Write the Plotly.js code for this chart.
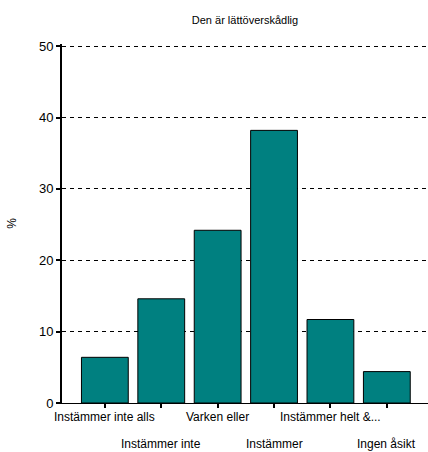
<!DOCTYPE html>
<html>
<head>
<meta charset="utf-8">
<script src="https://cdn.plot.ly/plotly-3.0.1.min.js"></script>
<style>html,body{margin:0;padding:0;background:#fff;}#chart{width:428px;height:452px;}</style>
</head>
<body>
<div id="chart"></div>
<script>
const categories = ["Instämmer inte alls", "Instämmer inte", "Varken eller", "Instämmer", "Instämmer helt &...", "Ingen åsikt"];
const values = [6.4, 14.6, 24.2, 38.2, 11.7, 4.4];
const yTicks = [0, 10, 20, 30, 40, 50];
const titleText = "Den är lättöverskådlig";
const yTitle = "%";

const font = "Liberation Sans, Arial, sans-serif";
const idx = categories.map((c, i) => i);

const annotations = categories.map((c, i) => ({
  x: i, xref: 'x', y: 0, yref: 'paper',
  text: c, showarrow: false,
  yanchor: 'middle', xanchor: 'center',
  yshift: i % 2 === 0 ? -14 : -41,
  font: {family: font, size: 12, color: '#000'}
}));

Plotly.newPlot('chart', [{
  type: 'bar',
  x: idx,
  y: values,
  marker: {color: '#008080', line: {color: '#000', width: 1}},
  width: 0.83,
  hoverinfo: 'none'
}], {
  width: 428, height: 452,
  margin: {l: 62, r: 0, t: 44, b: 49},
  paper_bgcolor: '#fff', plot_bgcolor: '#fff',
  title: {text: titleText, x: 0.5, xref: 'paper', y: 0.955, yanchor: 'middle',
          font: {family: font, size: 11, color: '#000'}},
  showlegend: false,
  xaxis: {
    range: [-0.76, 5.73],
    tickvals: idx, ticktext: idx.map(() => ''),
    ticks: 'outside', ticklen: 4, tickwidth: 2, tickcolor: '#000',
    showline: true, linecolor: '#000', linewidth: 1,
    showgrid: false, zeroline: false, fixedrange: true
  },
  yaxis: {
    range: [0, 50.3],
    tickvals: yTicks, ticktext: yTicks.map(String),
    ticks: 'outside', ticklen: 4, tickwidth: 2, tickcolor: '#000',
    showline: true, linecolor: '#000', linewidth: 2,
    showgrid: true, gridcolor: '#000', gridwidth: 1, griddash: '4px,4px',
    zeroline: false,
    tickfont: {family: font, size: 13, color: '#000'},
    title: {text: yTitle, font: {family: font, size: 12, color: '#000'}, standoff: 20},
    fixedrange: true
  },
  annotations: annotations
}, {displayModeBar: false, staticPlot: true});
</script>
</body>
</html>
